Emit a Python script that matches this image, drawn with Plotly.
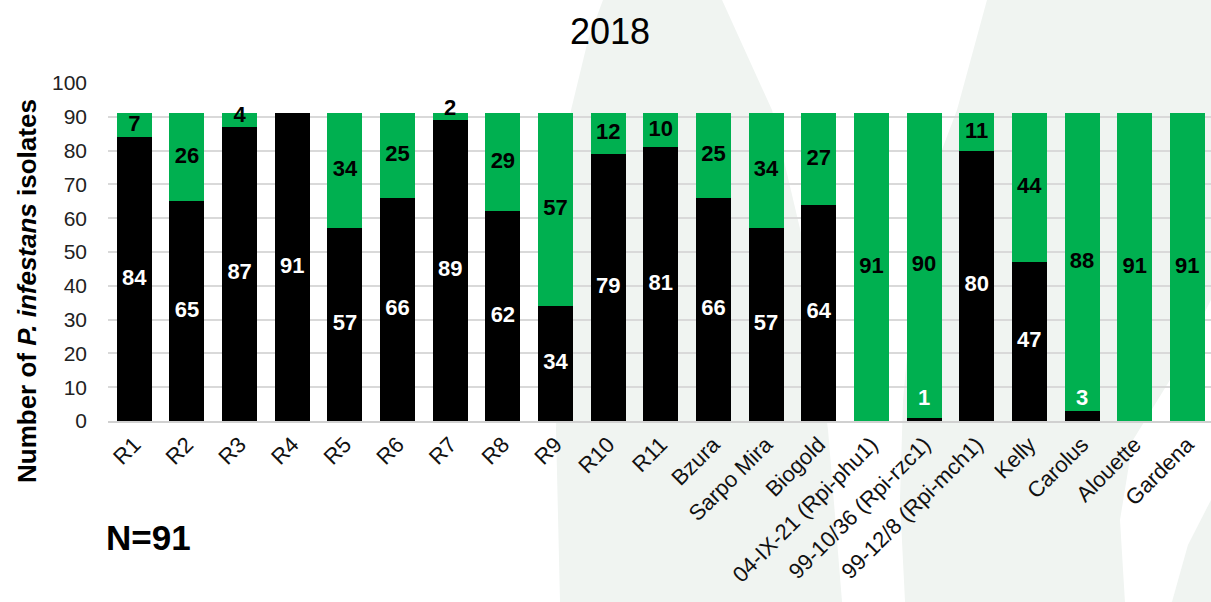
import plotly.graph_objects as go

# Resistance genes / cultivars tested
categories = [
    "R1", "R2", "R3", "R4", "R5", "R6", "R7", "R8", "R9", "R10", "R11",
    "Bzura", "Sarpo Mira", "Biogold",
    "04-IX-21 (Rpi-phu1)", "99-10/36 (Rpi-rzc1)", "99-12/8 (Rpi-mch1)",
    "Kelly", "Carolus", "Alouette", "Gardena",
]
# Isolates per category (black = virulent, green = avirulent)
virulent = [84, 65, 87, 91, 57, 66, 89, 62, 34, 79, 81, 66, 57, 64, 0, 1, 80, 47, 3, 0, 0]
avirulent = [7, 26, 4, 0, 34, 25, 2, 29, 57, 12, 10, 25, 34, 27, 91, 90, 11, 44, 88, 91, 91]

y_ticks = list(range(0, 101, 10))
title_text = "2018"
sample_note = "N=91"

BLACK = "#000000"
GREEN = "#00b050"
FONT = "Arial, Liberation Sans, sans-serif"

W, H = 1211, 602
L, R, T, B = 108, 0, 83, 181

fig = go.Figure()

fig.add_trace(go.Bar(x=categories, y=virulent, marker=dict(color=BLACK, line=dict(width=0)),
                     hoverinfo="skip", showlegend=False))
fig.add_trace(go.Bar(x=categories, y=avirulent, marker=dict(color=GREEN, line=dict(width=0)),
                     hoverinfo="skip", showlegend=False))

# Value labels centred in each segment (nudged clear of the base for thin segments)
vx, vy, vt = [], [], []
ax_, ay_, at_ = [], [], []
for c, v, a in zip(categories, virulent, avirulent):
    if v > 0:
        vx.append(c); vy.append(max(v / 2, 6.5)); vt.append(str(v))
    if a > 0:
        ax_.append(c); ay_.append(v + max(a / 2, 3.2)); at_.append(str(a))

fig.add_trace(go.Scatter(x=vx, y=vy, text=vt, mode="text", hoverinfo="skip", showlegend=False,
                         textfont=dict(family=FONT, size=22, color="white", weight="bold")))
fig.add_trace(go.Scatter(x=ax_, y=ay_, text=at_, mode="text", hoverinfo="skip", showlegend=False,
                         textfont=dict(family=FONT, size=22, color="black", weight="bold")))


def px(x, y):
    """pixel position -> paper coordinates of the plot area"""
    pw, ph = W - L - R, H - T - B
    return (x - L) / pw, (H - B - y) / ph


def path(points):
    pts = [px(x, y) for x, y in points]
    return "M " + " L ".join(f"{a:.4f},{b:.4f}" for a, b in pts) + " Z"


# faint background swooshes
bg_col = "#f0f4f1"
left_swoosh = [(603, 0), (722, 0), (772, 110), (805, 250), (828, 430), (842, 602),
               (560, 602), (556, 430), (559, 260), (571, 110), (588, 40)]
right_swoosh = [(987, 0), (1211, 0), (1211, 300), (1170, 380), (1133, 440), (1120, 520),
                (1125, 602), (905, 602), (900, 500), (903, 400), (912, 300), (923, 200),
                (957, 110)]
corner = [(1211, 500), (1211, 602), (1172, 602), (1188, 545)]
shapes = [dict(type="path", xref="paper", yref="paper", path=path(p), fillcolor=bg_col,
               line=dict(width=0), layer="below") for p in (left_swoosh, right_swoosh, corner)]

fig.update_layout(
    width=W, height=H,
    margin=dict(l=L, r=R, t=T, b=B, pad=0),
    paper_bgcolor="white", plot_bgcolor="rgba(0,0,0,0)",
    barmode="stack", bargap=0.335,
    font=dict(family=FONT, color="#000000"),
    shapes=shapes,
    xaxis=dict(
        range=[-0.5, 20.45], tickangle=-45, tickfont=dict(family=FONT, size=22, color="#111111"),
        showgrid=False, showline=True, linecolor="#d0d0d0", linewidth=2, ticks="",
        fixedrange=True,
    ),
    yaxis=dict(
        range=[0, 100], tickvals=y_ticks, tickfont=dict(family=FONT, size=21, color="#222222"),
        showgrid=True, gridcolor="#d9d9d9", gridwidth=1.5, zeroline=False, showline=False,
        ticks="", ticklabelstandoff=20, fixedrange=True,
    ),
    annotations=[
        dict(text=title_text, xref="paper", yref="paper", x=px(610, 0)[0], y=px(0, 31)[1],
             xanchor="center", yanchor="middle", showarrow=False,
             font=dict(family=FONT, size=36, color="black")),
        dict(text="Number of <i>P. infestans</i> isolates", xref="paper", yref="paper",
             x=px(27, 0)[0], y=px(0, 291)[1], textangle=-90, xanchor="center", yanchor="middle",
             showarrow=False, font=dict(family=FONT, size=26, color="black", weight="bold")),
        dict(text=sample_note, xref="paper", yref="paper", x=px(104, 0)[0], y=px(0, 537)[1],
             xanchor="left", yanchor="middle", showarrow=False,
             font=dict(family=FONT, size=35, color="black", weight="bold")),
    ],
)

fig.write_html("out.html")
